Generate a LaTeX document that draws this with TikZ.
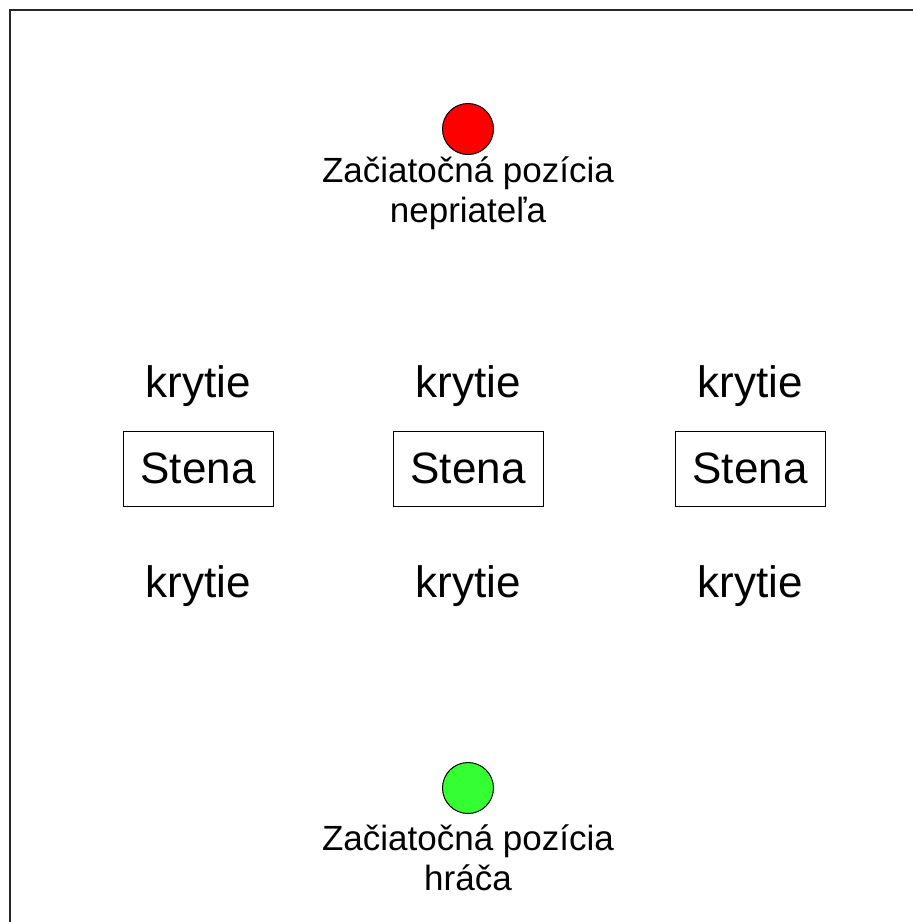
\documentclass[tikz,border=0pt]{standalone}
\usepackage{fontspec}
\setmainfont{Liberation Sans}
\definecolor{enemyred}{RGB}{255,0,0}
\definecolor{playergreen}{RGB}{51,255,51}
\begin{document}
\begin{tikzpicture}[x=1pt,y=-1pt,
  wallbox/.style={draw=black, line width=1pt, minimum width=150pt, minimum height=75pt, inner sep=0pt,
    font=\fontsize{44}{50}\selectfont},
  coverlabel/.style={inner sep=0pt, anchor=base, font=\fontsize{44}{50}\selectfont},
  spawn/.style={circle, draw=black, line width=1pt, minimum size=51pt, inner sep=0pt},
  spawnlabel/.style={inner sep=0pt, anchor=north, align=center, font=\fontsize{35}{40}\selectfont}]
  \useasboundingbox (0,0) rectangle (913,922);
  \clip (0,0) rectangle (913,922);
  \fill[white] (0,0) rectangle (913,922);
  % playing field frame, running off the right and bottom edges
  \draw[line width=1.5pt, black!85] (10,10) rectangle (960,960);

  % enemy spawn
  \node[spawn, fill=enemyred] (enemy) at (468,129) {};
  \node[spawnlabel] (enemylbl) at (468,157) {Začiatočná pozícia\\nepriateľa};

  % walls with cover spots above and below
  \foreach \i/\x in {1/198, 2/468, 3/750} {
    \node[wallbox] (wall\i) at (\x,468.5) {Stena};
    \node[coverlabel] (coverN\i) at (\x,397) {krytie};
    \node[coverlabel] (coverS\i) at (\x,597) {krytie};
  }

  % player spawn
  \node[spawn, fill=playergreen] (player) at (468,788) {};
  \node[spawnlabel] (playerlbl) at (468,825) {Začiatočná pozícia\\hráča};
\end{tikzpicture}
\end{document}
